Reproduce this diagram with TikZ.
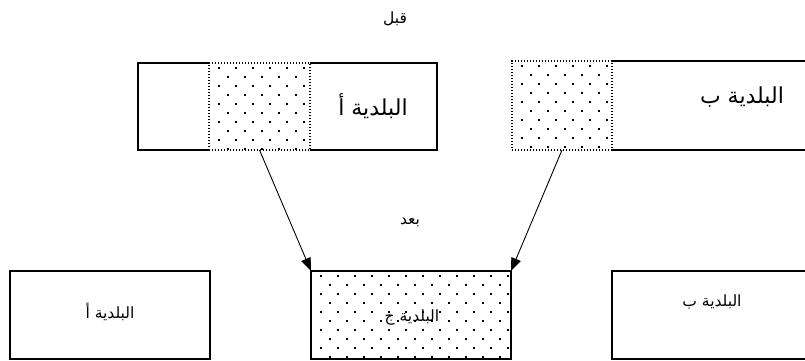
\documentclass[tikz,border=0pt]{standalone}
\usepackage{fontspec}
\newfontfamily\arabicfont[Script=Arabic]{DejaVu Sans}
\TeXXeTstate=1
\usetikzlibrary{arrows.meta}
\newcommand{\ar}[1]{\arabicfont\beginR #1\endR}
\tikzset{
  solidline/.style={draw=black, line width=1.8pt},
  dotline/.style={draw=black, line width=2pt, dash pattern=on 1.3pt off 1.7pt},
  region/.style={inner sep=0pt, outer sep=0pt, anchor=north west},
  bigtxt/.style={font=\fontsize{22}{24}\selectfont\arabicfont, inner sep=0pt},
  smalltxt/.style={font=\fontsize{15.5}{17}\selectfont\arabicfont, inner sep=0pt},
  labtxt/.style={font=\fontsize{15.5}{17}\selectfont\arabicfont, inner sep=0pt},
  conn/.style={draw=black, line width=0.9pt, -{Triangle[length=13pt,width=10pt]}},
}
\newcommand{\dotfield}[6]{% x1 y1 x2 y2 dx dy
  \begin{scope}
    \clip (#1,#2) rectangle (#3,#4);
    \pgfmathsetmacro{\nrows}{int((#4-#2)/#6)+1}
    \pgfmathsetmacro{\ncols}{int((#3-#1)/#5)+1}
    \foreach \r in {0,...,\nrows}{
      \pgfmathsetmacro{\off}{mod(\r,2)*#5/2}
      \foreach \c in {0,...,\ncols}{
        \fill[black] ({#1+#5*0.6+\off+\c*#5-1},{#2+#6*0.5+\r*#6-1}) rectangle ++(2,2);
      }
    }
  \end{scope}
}
\begin{document}
\begin{tikzpicture}[x=1pt,y=-1pt]
\useasboundingbox (0,0) rectangle (805,360);
\fill[white] (0,0) rectangle (805,360);

% top labels
\node[labtxt] (before) at (395,19) {\ar{قبل}};
\node[labtxt] (after) at (410,222) {\ar{بعد}};

% Box A (top left)
\dotfield{209}{63}{310}{150}{17}{9}
\draw[solidline] (209,63) -- (138,63) -- (138,150) -- (209,150);
\draw[solidline] (310,63) -- (437,63) -- (437,150) -- (310,150);
\node[region, minimum width=101pt, minimum height=87pt, dotline] (Ad) at (209,63) {};
\node[bigtxt] (Atxt) at (373,106) {\ar{البلدية أ}};

% Box B (top right)
\dotfield{512}{61}{612}{150}{17}{9}
\draw[solidline] (612,61) -- (815,61);
\draw[solidline] (612,150) -- (815,150);
\node[region, minimum width=100pt, minimum height=89pt, dotline] (Bd) at (512,61) {};
\node[bigtxt] (Btxt) at (742,97) {\ar{البلدية ب}};

% Box C (bottom middle)
\dotfield{311}{271}{511}{359}{17}{9}
\node[region, minimum width=200pt, minimum height=88pt, solidline] (C) at (311,271) {};
\node[smalltxt] (Ctxt) at (412,317) {\ar{البلدية ج}};

% Bottom left
\node[region, minimum width=200pt, minimum height=88pt, solidline] (A2) at (10,271) {};
\node[smalltxt] (A2txt) at (110,312) {\ar{البلدية أ}};

% Bottom right
\draw[solidline] (815,271) -- (612,271) -- (612,359) -- (815,359);
\coordinate (B2) at (612,271);
\node[smalltxt] (B2txt) at (712,302) {\ar{البلدية ب}};

% connectors
\draw[conn] (Ad.south) -- (C.north west);
\draw[conn] (Bd.south) -- (C.north east);
\end{tikzpicture}
\end{document}
